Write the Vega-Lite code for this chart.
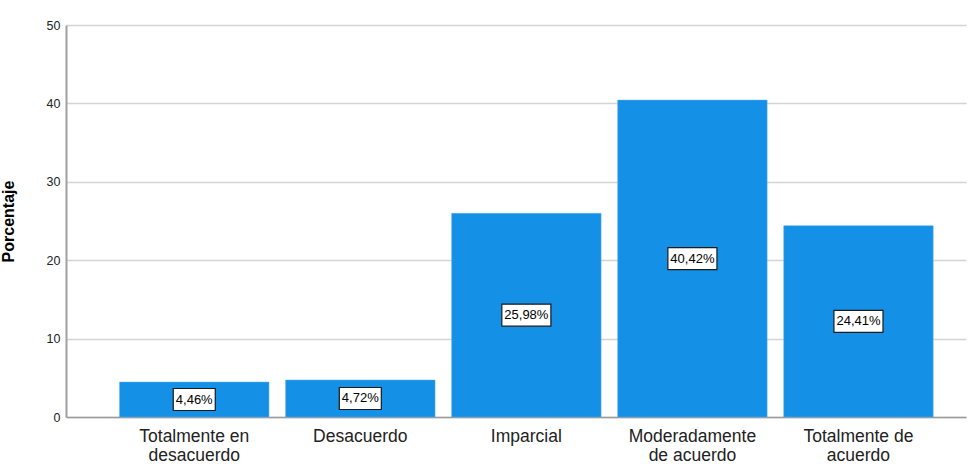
{
  "$schema": "https://vega.github.io/schema/vega-lite/v6.json",
  "width": 900,
  "height": 392,
  "autosize": {"type": "none"},
  "padding": {"left": 66, "top": 25, "right": 8, "bottom": 47},
  "background": "white",
  "data": {
    "values": [
      {"cat": "Totalmente en desacuerdo", "pct": 4.46, "label": "4,46%"},
      {"cat": "Desacuerdo", "pct": 4.72, "label": "4,72%"},
      {"cat": "Imparcial", "pct": 25.98, "label": "25,98%"},
      {"cat": "Moderadamente de acuerdo", "pct": 40.42, "label": "40,42%"},
      {"cat": "Totalmente de acuerdo", "pct": 24.41, "label": "24,41%"}
    ]
  },
  "encoding": {
    "x": {
      "field": "cat",
      "type": "nominal",
      "sort": null,
      "scale": {"paddingInner": 0.1, "paddingOuter": 0.26, "align": 0.62},
      "axis": {
        "title": null,
        "labelAngle": 0,
        "ticks": false,
        "domain": true,
        "domainColor": "#9a9a9a",
        "domainWidth": 1.5,
        "labelFont": "Liberation Sans",
        "labelFontSize": 17.5,
        "labelColor": "#222222",
        "labelPadding": 10,
        "labelLineHeight": 19.5,
        "labelExpr": "datum.value == 'Totalmente en desacuerdo' ? ['Totalmente en', 'desacuerdo'] : datum.value == 'Moderadamente de acuerdo' ? ['Moderadamente', 'de acuerdo'] : datum.value == 'Totalmente de acuerdo' ? ['Totalmente de', 'acuerdo'] : datum.value",
        "labelLimit": 300
      }
    }
  },
  "layer": [
    {
      "mark": {"type": "bar", "color": "#1490e6", "stroke": "#5aaef0", "strokeWidth": 0.5},
      "encoding": {
        "y": {
          "field": "pct",
          "type": "quantitative",
          "scale": {"domain": [0, 50], "nice": false},
          "axis": {
            "title": "Porcentaje",
            "titleFont": "Liberation Sans",
            "titleFontSize": 16,
            "titleFontWeight": "bold",
            "titleColor": "#000000",
            "titlePadding": 30,
            "values": [0, 10, 20, 30, 40, 50],
            "labelFont": "Liberation Sans",
            "labelFontSize": 12.5,
            "labelColor": "#222222",
            "labelPadding": 6,
            "ticks": false,
            "domainColor": "#a0a0a0",
            "domainWidth": 2,
            "grid": true,
            "gridColor": "#d4d4d4",
            "gridWidth": 1.5
          }
        }
      }
    },
    {
      "encoding": {
        "y": {
          "field": "pct",
          "type": "quantitative",
          "scale": {"domain": [0, 100], "nice": false},
          "axis": null
        }
      },
      "layer": [
        {
          "transform": [{"filter": "datum.pct < 10"}],
          "mark": {"type": "point", "shape": "M-1.91,-1H1.91V1H-1.91Z", "size": 484, "filled": false, "fill": "white", "fillOpacity": 1, "stroke": "#1a1a1a", "strokeWidth": 1.2, "opacity": 1}
        },
        {
          "transform": [{"filter": "datum.pct >= 10"}],
          "mark": {"type": "point", "shape": "M-2.23,-1H2.23V1H-2.23Z", "size": 484, "filled": false, "fill": "white", "fillOpacity": 1, "stroke": "#1a1a1a", "strokeWidth": 1.2, "opacity": 1}
        },
        {
          "mark": {"type": "text", "font": "Liberation Sans", "fontSize": 13, "color": "#000000", "baseline": "middle", "align": "center"},
          "encoding": {"text": {"field": "label"}}
        }
      ]
    }
  ],
  "resolve": {"scale": {"y": "independent"}},
  "config": {
    "view": {"stroke": null}
  }
}
